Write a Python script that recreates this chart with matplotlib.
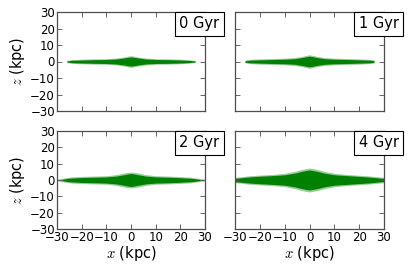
import numpy as np
import matplotlib
matplotlib.use("Agg")
import matplotlib.pyplot as plt
from matplotlib.offsetbox import AnchoredText

plt.rcParams["mathtext.fontset"] = "cm"

# Disk profile: x positions (kpc) and half-thickness (kpc)
x_nodes = [-30, -28, -26, -24, -20, -15, -10, -6, -3, -1, 0, 1, 3, 6, 10, 15, 20, 24, 26, 28, 30]
# dense core half-thickness per snapshot (nan = no particles)
core_0 = [np.nan, np.nan, 0.3, 0.7, 0.9, 1.1, 1.2, 1.5, 2.1, 2.6, 2.8, 2.6, 2.1, 1.5, 1.2, 1.1, 0.9, 0.6, 0.3, np.nan, np.nan]
core_1 = [np.nan, np.nan, 0.4, 0.8, 1.0, 1.2, 1.4, 1.7, 2.4, 3.0, 3.2, 3.0, 2.4, 1.7, 1.4, 1.2, 1.0, 0.8, 0.5, np.nan, np.nan]
core_2 = [np.nan, 0.4, 0.9, 1.2, 1.5, 1.7, 1.9, 2.4, 3.2, 3.8, 4.0, 3.8, 3.2, 2.4, 1.9, 1.7, 1.4, 1.1, 0.8, 0.4, np.nan]
core_4 = [1.1, 1.3, 1.6, 1.9, 2.3, 2.7, 3.2, 4.2, 5.3, 5.9, 6.1, 5.9, 5.3, 4.2, 3.2, 2.7, 2.2, 1.8, 1.5, 1.2, 1.0]
# sparse outer envelope half-thickness
halo_0 = [np.nan, np.nan, 0.7, 1.1, 1.4, 1.6, 1.7, 2.1, 2.7, 3.3, 3.5, 3.3, 2.7, 2.1, 1.7, 1.6, 1.4, 1.0, 0.6, np.nan, np.nan]
halo_1 = [np.nan, np.nan, 0.8, 1.3, 1.6, 1.8, 2.0, 2.4, 3.1, 3.8, 4.1, 3.8, 3.1, 2.4, 2.0, 1.8, 1.6, 1.3, 0.9, np.nan, np.nan]
halo_2 = [0.5, 1.0, 1.5, 1.9, 2.2, 2.4, 2.6, 3.3, 4.3, 4.7, 4.9, 4.7, 4.3, 3.3, 2.6, 2.4, 2.1, 1.7, 1.3, 0.9, 0.6]
halo_4 = [1.7, 1.9, 2.3, 2.6, 3.0, 3.4, 4.1, 5.3, 6.5, 7.1, 7.3, 7.1, 6.5, 5.3, 4.1, 3.4, 2.9, 2.5, 2.2, 1.9, 1.7]

labels = ["0 Gyr", "1 Gyr", "2 Gyr", "4 Gyr"]
cores = [core_0, core_1, core_2, core_4]
halos = [halo_0, halo_1, halo_2, halo_4]
ticks = [-30, -20, -10, 0, 10, 20, 30]

W, H = 409, 272
fig = plt.figure(figsize=(W / 100, H / 100), dpi=100)


def box(l, r, t, b):
    return [l / W, 1 - b / H, (r - l) / W, (b - t) / H]


positions = [
    box(57, 205, 12, 111),
    box(235, 384, 12, 111),
    box(57, 205, 131, 229),
    box(235, 384, 131, 229),
]
xn = np.array(x_nodes, dtype=float)
for i, pos in enumerate(positions):
    ax = fig.add_axes(pos)
    h = np.array(halos[i], dtype=float)
    c = np.array(cores[i], dtype=float)
    ax.fill_between(xn, -h, h, color="#008000", alpha=0.4, lw=0)
    ax.fill_between(xn, -c, c, color="#008000", lw=0)
    ax.set_xlim(-30, 30)
    ax.set_ylim(-30, 30)
    ax.set_xticks(ticks)
    ax.set_yticks(ticks)
    ax.tick_params(direction="in", top=True, right=True, labelsize=8.5,
                   length=3.5, width=0.6, color="0.3", pad=1.5)
    for s in ax.spines.values():
        s.set_color("0.3")
        s.set_linewidth(0.9)
    if i in (0, 1):
        ax.set_xticklabels([])
    else:
        ax.set_xlabel(r"$x$ (kpc)", fontsize=10.5, labelpad=0)
    if i in (1, 3):
        ax.set_yticklabels([])
    else:
        ax.set_ylabel(r"$z$ (kpc)", fontsize=10.5, labelpad=2)
    at = AnchoredText(labels[i], loc="upper right", prop=dict(size=10.5),
                      pad=0.3, borderpad=0.0, frameon=True,
                      bbox_to_anchor=(1.0 + 19.0 / 149.0, 1.0),
                      bbox_transform=ax.transAxes)
    at.patch.set_edgecolor("black")
    at.patch.set_linewidth(0.8)
    at.set_clip_on(False)
    ax.add_artist(at)

fig.savefig("out.png", dpi=100)
